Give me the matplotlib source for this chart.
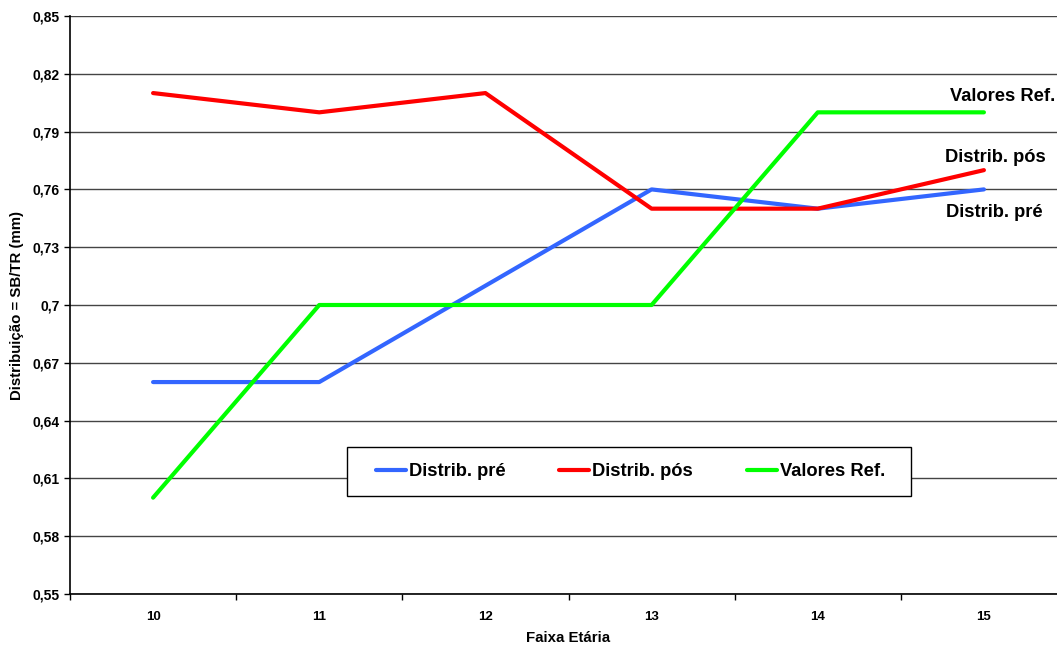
import numpy as np
import matplotlib
matplotlib.use("Agg")
import matplotlib.pyplot as plt
from matplotlib.patches import Rectangle

plt.rcParams['font.family'] = ['Liberation Sans', 'DejaVu Sans']
plt.rcParams['font.weight'] = 'bold'

# age groups and measured ratios
idades = ['10', '11', '12', '13', '14', '15']
distrib_pre = [0.66, 0.66, 0.71, 0.76, 0.75, 0.76]
distrib_pos = [0.81, 0.80, 0.81, 0.75, 0.75, 0.77]
valores_ref = [0.60, 0.70, 0.70, 0.70, 0.80, 0.80]

y_ticks = [0.55, 0.58, 0.61, 0.64, 0.67, 0.70, 0.73, 0.76, 0.79, 0.82, 0.85]
y_labels = ['0,55', '0,58', '0,61', '0,64', '0,67', '0,7', '0,73', '0,76', '0,79', '0,82', '0,85']

fig = plt.figure(figsize=(10.57, 6.48), dpi=100)
ax = fig.add_axes([70 / 1057, 54 / 648, 997 / 1057, 578 / 648])

x = np.arange(len(idades))
ax.plot(x, distrib_pre, color='#3366FF', lw=3, label='Distrib. pré', solid_capstyle='round')
ax.plot(x, distrib_pos, color='#FF0000', lw=3, label='Distrib. pós', solid_capstyle='round')
ax.plot(x, valores_ref, color='#00FF00', lw=3, label='Valores Ref.', solid_capstyle='round')

ax.set_xlim(-0.5, 5.5)
ax.set_ylim(0.55, 0.85)
ax.set_yticks(y_ticks)
ax.set_yticklabels(y_labels, fontsize=10, fontweight='bold')
ax.set_xticks(x)
ax.set_xticklabels(idades, fontsize=9.5, fontweight='bold')
ax.set_xticks(np.arange(-0.5, 6, 1), minor=True)
ax.tick_params(axis='x', which='major', length=0, pad=12)
ax.tick_params(axis='x', which='minor', length=4, width=1, direction='out')
ax.tick_params(axis='y', length=4, width=1, direction='out', pad=3.5)

ax.grid(axis='y', color='#444444', lw=1)
ax.set_axisbelow(True)
for s in ['top', 'right']:
    ax.spines[s].set_visible(False)
for s in ['left', 'bottom']:
    ax.spines[s].set_linewidth(1.2)
    ax.spines[s].set_color('black')

ax.set_xlabel('Faixa Etária', fontsize=10.8, fontweight='bold', labelpad=6)
ax.set_ylabel('Distribuição = SB/TR (mm)', fontsize=10.8, fontweight='bold', labelpad=6)

# series names next to the last point
ax.text(5.11, 0.808, 'Valores Ref.', fontsize=13.2, fontweight='bold', ha='center', va='center')
ax.text(5.07, 0.7768, 'Distrib. pós', fontsize=13.2, fontweight='bold', ha='center', va='center')
ax.text(5.06, 0.7478, 'Distrib. pré', fontsize=13.2, fontweight='bold', ha='center', va='center')

# legend box drawn behind a frameless legend
ax.add_patch(Rectangle((0.2782, 0.1696), 0.5658, 0.0847, transform=ax.transAxes,
                       facecolor='white', edgecolor='black', lw=1, zorder=4))
leg = ax.legend(loc='center', bbox_to_anchor=(0.5622, 0.2119), ncol=3, fontsize=13.2,
                frameon=False, handlelength=1.64, handletextpad=0.15,
                columnspacing=2.95, borderpad=0, borderaxespad=0)
leg.set_zorder(5)
for t in leg.get_texts():
    t.set_fontweight('bold')

fig.savefig('out.png', dpi=100)
